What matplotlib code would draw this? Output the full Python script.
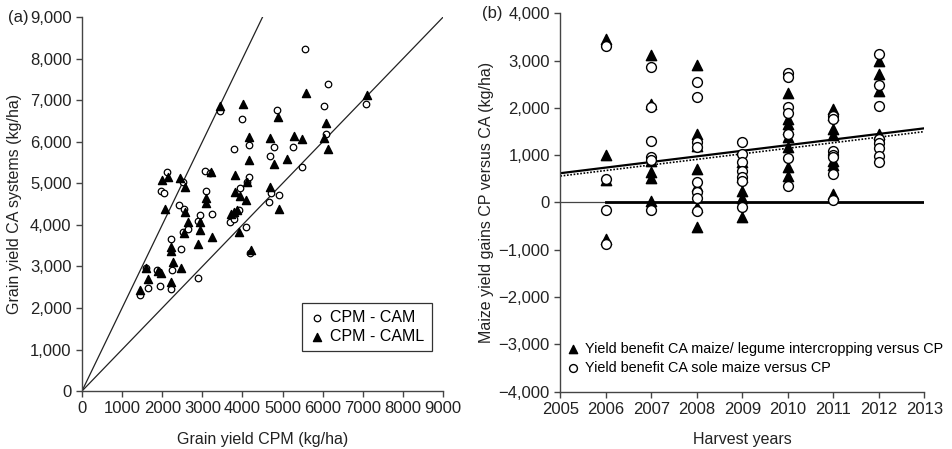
import matplotlib.pyplot as plt
import numpy as np
from matplotlib.ticker import FuncFormatter

plt.rcParams["font.family"] = ["Liberation Sans", "DejaVu Sans"]
plt.rcParams["font.size"] = 11.5

# (a) grain yield CPM vs CA systems, kg/ha
cam_cpm = [1450, 1590, 1640, 1880, 1940, 1980, 2050, 2130, 2210, 2220, 2250, 2430, 2470, 2520,
           2530, 2550, 2640, 2890, 2900, 2940, 3070, 3090, 3200, 3230, 3430, 3700, 3800, 3800,
           3910, 3940, 4000, 4100, 4110, 4150, 4150, 4190, 4670, 4680, 4700, 4780, 4870, 4920,
           5270, 5480, 5550, 6020, 6080, 6120, 7080]
cam_ca = [2300, 2950, 2490, 2910, 2530, 4820, 4770, 5280, 3670, 2450, 2910, 4480, 3430, 3820,
          5030, 4370, 3910, 2730, 4090, 4240, 5300, 4820, 5240, 4250, 6750, 4060, 4150, 5830,
          4350, 4880, 6540, 3950, 5020, 5160, 5920, 3320, 4550, 5650, 4770, 5870, 6770, 4710,
          5880, 5380, 8220, 6870, 6180, 7380, 6920]
caml_cpm = [1450, 1600, 1640, 1890, 1970, 1990, 2060, 2150, 2210, 2230, 2230, 2260, 2440, 2480,
            2540, 2560, 2560, 2650, 2900, 2930, 2940, 3090, 3090, 3220, 3250, 3450, 3720, 3800,
            3820, 3820, 3860, 3910, 3940, 4020, 4100, 4110, 4150, 4160, 4200, 4690, 4690, 4790,
            4880, 4920, 5110, 5290, 5480, 5580, 6040, 6090, 6130, 7100]
caml_ca = [2440, 2950, 2700, 2900, 2830, 5070, 4370, 5150, 3470, 3370, 2630, 3100, 5120, 2970,
           3800, 4910, 4310, 4070, 3550, 3870, 4080, 4640, 4520, 5270, 3710, 6860, 4270, 4310,
           5200, 4800, 4360, 3830, 4690, 6900, 4600, 5030, 6120, 5570, 3400, 6090, 4920, 5470,
           6590, 4390, 5590, 6140, 6060, 7180, 6100, 6440, 5820, 7120]
ref_slopes = [1, 2]

# (b) yield gains CP versus CA by harvest year, kg/ha
icr_years = [2006] * 4 + [2007] * 6 + [2008] * 7 + [2009] * 5 + [2010] * 8 + [2011] * 7 + [2012] * 4
icr_gain = [3450, 1000, 480, -780,
            3120, 2080, 870, 640, 520, 30,
            2900, 1450, 1200, 700, 350, -100, -520,
            850, 530, 250, 100, -300,
            2320, 1770, 1660, 1560, 1380, 1170, 750, 570,
            1970, 1850, 1560, 1420, 880, 800, 180,
            3000, 2710, 2350, 1450]
sole_years = [2006] * 4 + [2007] * 6 + [2008] * 8 + [2009] * 7 + [2010] * 7 + [2011] * 7 + [2012] * 8
sole_gain = [3320, 500, -150, -870,
             2860, 2030, 1310, 960, 900, -150,
             2550, 2240, 1280, 1170, 430, 230, 90, -190,
             1270, 1030, 850, 660, 530, 450, -100,
             2730, 2650, 2020, 1890, 1450, 940, 350,
             1820, 1760, 1100, 1010, 960, 600, 50,
             3150, 2480, 2050, 1350, 1250, 1150, 980, 850]
trend_years = [2005, 2013]
trend_icr = [620, 1570]
trend_sole = [560, 1500]

fig = plt.figure(figsize=(9.53, 4.49), dpi=100)
ax1 = fig.add_axes([0.086, 0.129, 0.379, 0.833])
ax2 = fig.add_axes([0.588, 0.128, 0.382, 0.842])

spine_col = "#444444"


def style_axes(ax):
    for side in ("top", "right"):
        ax.spines[side].set_visible(False)
    for side in ("left", "bottom"):
        ax.spines[side].set_color(spine_col)
        ax.spines[side].set_linewidth(1.0)
    ax.tick_params(direction="out", length=4, width=1.0, color=spine_col,
                   labelcolor="#222222", labelsize=12)


thousands = FuncFormatter(lambda v, p: f"{int(v):,}".replace("-", "\u2212"))

# panel (a)
xs = np.array([0, 9000])
for k in ref_slopes:
    ax1.plot(xs, k * xs, color="#222222", lw=0.9, zorder=1)
ax1.scatter(cam_cpm, cam_ca, s=22, facecolors="white", edgecolors="black", linewidths=0.9,
            marker="o", label="CPM - CAM", zorder=3)
ax1.scatter(caml_cpm, caml_ca, s=34, color="black", marker="^", label="CPM - CAML", zorder=3)
ax1.set_xlim(0, 9000)
ax1.set_ylim(0, 9000)
ax1.set_xticks(np.arange(0, 9001, 1000))
ax1.set_yticks(np.arange(0, 9001, 1000))
ax1.yaxis.set_major_formatter(thousands)
style_axes(ax1)
ax1.set_xlabel("Grain yield CPM (kg/ha)", labelpad=11, color="#222222")
ax1.set_ylabel("Grain yield CA systems (kg/ha)", labelpad=6, color="#222222")
leg1 = ax1.legend(loc="lower right", bbox_to_anchor=(0.99, 0.085), frameon=True, fancybox=False,
                  edgecolor="black", handletextpad=0.3, borderpad=0.45, handlelength=1.0,
                  labelspacing=0.25, fontsize=11.5)
leg1.get_frame().set_linewidth(0.9)
fig.text(0.008, 0.962, "(a)", ha="left", va="center", fontsize=12, color="#222222")

# panel (b)
ax2.axhline(0, color="#444444", lw=0.9, zorder=1)
ax2.plot([2006, 2013], [0, 0], color="black", lw=2.0, zorder=1)
ax2.plot(trend_years, trend_icr, color="black", lw=1.6, zorder=2)
ax2.plot(trend_years, trend_sole, color="black", lw=1.2, ls=(0, (1, 1)), zorder=2)
ax2.scatter(icr_years, icr_gain, s=55, color="black", marker="^", zorder=3,
            label="Yield benefit CA maize/ legume intercropping versus CP")
ax2.scatter(sole_years, sole_gain, s=50, facecolors="white", edgecolors="black", linewidths=1.0,
            marker="o", zorder=4, label="Yield benefit CA sole maize versus CP")
ax2.set_xlim(2005, 2013)
ax2.set_ylim(-4000, 4000)
ax2.set_xticks(np.arange(2005, 2014))
ax2.set_yticks(np.arange(-4000, 4001, 1000))
ax2.yaxis.set_major_formatter(thousands)
style_axes(ax2)
ax2.set_xlabel("Harvest years", labelpad=11, color="#222222")
ax2.set_ylabel("Maize yield gains CP versus CA (kg/ha)", labelpad=3, color="#222222")
ax2.legend(loc="lower left", bbox_to_anchor=(-0.03, 0.01), frameon=False, handletextpad=0.15,
           handlelength=1.4, labelspacing=0.35, fontsize=10.4, markerscale=0.8)
fig.text(0.506, 0.970, "(b)", ha="left", va="center", fontsize=12, color="#222222")

fig.savefig("out.png", dpi=100)
